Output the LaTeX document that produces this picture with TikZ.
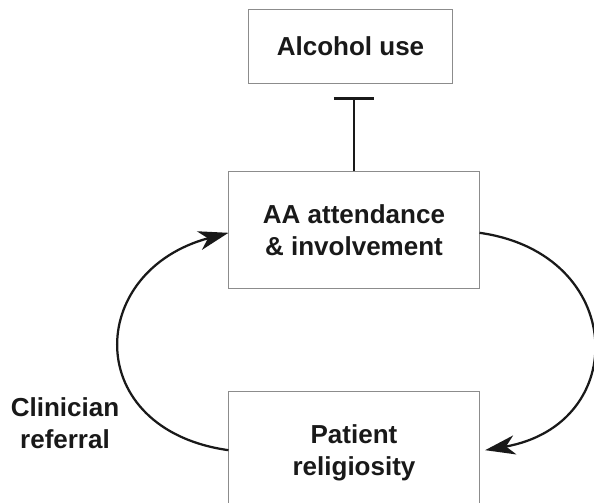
\documentclass[tikz,border=0pt]{standalone}
\usepackage{fontspec}
\setmainfont{Liberation Sans}
\usetikzlibrary{arrows.meta}

\begin{document}
\begin{tikzpicture} [x=0.025cm, y=-0.025cm, align=center,
    box/.style={draw=black!45, line width=0.7pt, inner sep=0pt,
                font=\fontsize{18.5}{23}\selectfont\bfseries, text=black!90},
    link/.style={line width=1.6pt, black!90},
    head/.style={-{Stealth[length=0.75cm, width=0.48cm, inset=0.22cm]}},
    lbl/.style={font=\fontsize{18.5}{23}\selectfont\bfseries, text=black!90}]
\useasboundingbox (0,0) rectangle (594,503);

\path (350.5,46.5) node[box, minimum width=5.075cm, minimum height=1.825cm] (alc) {Alcohol use}
      (354,230) node[box, minimum width=6.25cm, minimum height=2.9cm] (aa) {AA attendance\\\& involvement}
      (354,453) node[box, minimum width=6.25cm, minimum height=3.05cm] (pat) {Patient\\religiosity}

      (65,423) node[lbl] (ref) {Clinician\\referral};

\draw[link, -{Bar[width=1cm]}, shorten >=0.35cm] (aa.north) to (aa.north |- alc.south);
\draw[link, head]
      ([yshift=-2pt]aa.east) to [out=-8, in=10, looseness=1.75] ([xshift=4pt,yshift=2pt]pat.east);
\draw[link, head]
      ([yshift=2pt]pat.west) to [out=172, in=195, looseness=1.75] ([yshift=-2pt]aa.west);

\end{tikzpicture}
\end{document}
